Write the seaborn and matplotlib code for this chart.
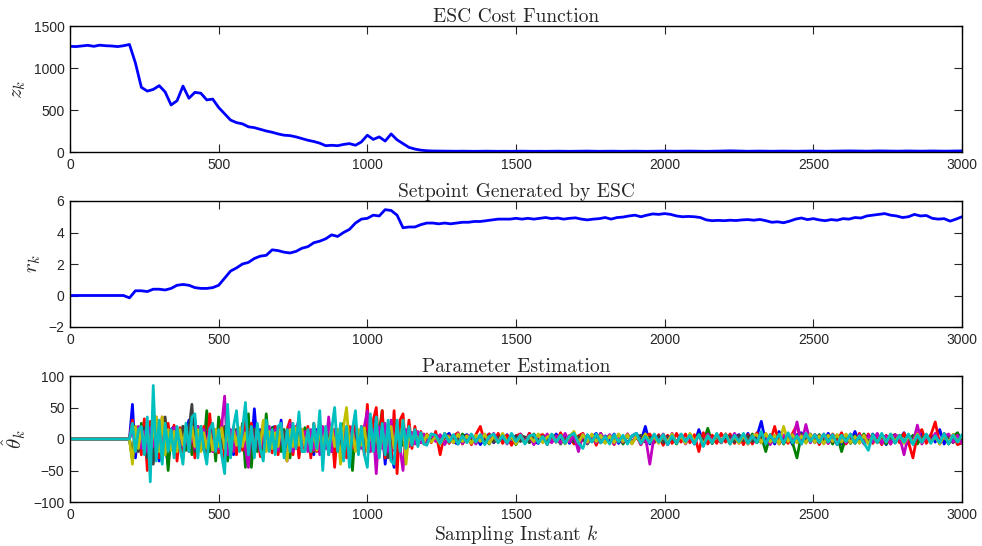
import numpy as np
import pandas as pd
import seaborn as sns
import matplotlib.pyplot as plt

# ESC cost function z_k, sampled every 20 instants from k=0
z_cost = [1258, 1255, 1262, 1270, 1258, 1272, 1265, 1262, 1255, 1265,
          1280, 1060, 770, 725, 745, 790, 715, 560, 610, 785,
          640, 710, 700, 620, 630, 530, 455, 380, 350, 335,
          300, 290, 270, 250, 235, 215, 200, 195, 180, 160,
          140, 125, 105, 75, 80, 75, 90, 100, 80, 120,
          200, 150, 180, 130, 215, 145, 100, 55, 35, 22,
          15, 12, 11, 10, 10, 9, 10, 9, 8, 9,
          10, 9, 8, 9, 8, 9, 10, 9, 8, 9,
          8, 9, 10, 9, 8, 9, 10, 11, 9, 8,
          9, 10, 9, 8, 9, 10, 9, 8, 9, 10,
          11, 10, 9, 10, 11, 10, 9, 8, 9, 10,
          12, 14, 12, 10, 9, 10, 11, 10, 9, 10,
          11, 10, 9, 10, 11, 12, 10, 9, 10, 11,
          12, 13, 12, 11, 10, 12, 13, 12, 11, 10,
          11, 12, 11, 10, 11, 12, 11, 10, 11, 12, 13]

# setpoint r_k, sampled every 20 instants from k=0
r_setpoint = [0, 0, 0, 0, 0, 0, 0, 0, 0, 0,
              -0.15, 0.3, 0.3, 0.25, 0.4, 0.4, 0.35, 0.45, 0.65, 0.7,
              0.65, 0.5, 0.45, 0.45, 0.5, 0.65, 1.1, 1.55, 1.75, 2.0,
              2.1, 2.35, 2.5, 2.55, 2.9, 2.85, 2.75, 2.7, 2.8, 3.0,
              3.1, 3.35, 3.45, 3.6, 3.85, 3.75, 4.0, 4.2, 4.6, 4.85,
              4.9, 5.1, 5.05, 5.45, 5.4, 5.1, 4.3, 4.35, 4.35, 4.5,
              4.6, 4.6, 4.55, 4.6, 4.55, 4.6, 4.65, 4.65, 4.7, 4.7,
              4.75, 4.8, 4.85, 4.85,
              4.85, 4.9, 4.85, 4.9, 4.85, 4.9, 4.95, 4.88, 4.92, 4.85,
              4.9, 4.93, 4.85, 4.8, 4.85, 4.88, 4.95, 4.85, 4.95, 4.98,
              5.05, 5.1, 5.0, 5.1, 5.18, 5.15, 5.2, 5.15, 5.05, 5.0,
              5.02, 5.0, 4.95, 4.8, 4.75, 4.77, 4.75, 4.78, 4.76, 4.8,
              4.82, 4.78, 4.83, 4.75, 4.65, 4.68, 4.62, 4.72, 4.85, 4.92,
              4.82, 4.88, 4.8, 4.75, 4.82, 4.78, 4.88, 4.85, 4.95, 4.92,
              5.05, 5.1, 5.15, 5.2, 5.1, 5.05, 4.95, 5.0, 5.15, 5.05,
              5.08, 4.9, 4.85, 4.88, 4.72, 4.85, 5.0]

# parameter estimates: early part every 10 instants from k=200,
# late part every 15 instants from k=1200 (all zero before k=200)
theta_b_early = [0, 55, -30, 12, -20, 18, -35, 10, 22, -15,
                 -35, 20, -10, -40, 15, 20, -12, 8, -25, 10,
                 30, -8, 30, -20, 12, -18, 10, 20, -15, 8,
                 -12, 15, -20, 20, 12, -25, 10, -15, 18, -10,
                 22, -18, 48, -10, 15, -20, 12, -8, 18, 20,
                 -15, 30, -20, 10, -18, 12, 15, -25, 10, -12,
                 8, -20, -25, 15, -10, 12, -15, 28, -20, 10,
                 -18, 20, -12, 10, 15, -22, 8, -15, 12, -20,
                 18, -15, 25, 30, -20, 15, -40, 10, -20, -45,
                 15, -20, 10, -12, 15, -8, 6, -5, 8, -4]
theta_b_late = [6, -4, 8, -7, 3, 9, -5, -8, 4, 7, -3,
                5, -9, 2, 8, -6, 4, -3, 7, -8, 5, 3,
                -6, 9, -4, -7, 6, 2, -5, 8, -3, 6, -7,
                4, -15, 7, -5, 3, 9, -6, 5, -4, 8, -7,
                3, -6, 5, 9, -4, 20, -8, 6, -3, 5, -9,
                4, -5, 7, -3, 6, -8, 15, -6, 4, -7, 5,
                -4, 8, -6, 3, 7, -5, 9, -7, 4, 28, -6,
                5, -8, 12, -4, 6, -9, 7, 10, -5, 8, -6,
                4, -7, 9, -3, 6, -8, 5, -4, 12, -6, 3,
                -7, 8, -5, 6, -9, 4, 7, -3, 10, -8, 5,
                -6, 9, -4, 7, -5, 15, -8, 6, -3, 9, -5]

theta_g_early = [0, -32, 20, -15, 25, -20, 15, -30, 10, -22,
                 12, -30, 18, -50, 10, -20, 15, -12, 20, -18,
                 15, -25, 10, -18, 20, -12, 45, -20, 18, -35,
                 35, -15, 20, -35, 12, -20, 15, -10, 25, -45,
                 40, -45, 15, -20, 10, -25, 40, -15, 18, -10,
                 12, -20, 15, -10, -30, 20, -15, 10, -12, 18,
                 -15, 10, -20, 12, -18, 15, -10, 20, -12, 15,
                 -20, 12, 25, -15, 18, -50, 20, -22, 15, -12,
                 20, -18, 15, -25, 12, 45, -30, 20, -15, 18,
                 -20, 15, -10, 8, -12, 10, -6, 8, -5, 6]
theta_g_late = [-5, 7, -3, 6, -8, 4, 5, -6, 8, -4, 6,
                -7, 3, 5, -8, 6, -4, 7, -5, 4, -9, 6,
                3, -6, 8, -4, 5, -7, 6, 4, -8, 5, -3,
                7, -5, 6, -8, 4, -3, 9, -6, 5, -4, 7,
                -8, 6, -5, 4, -7, 8, -3, 6, -5, 7, -4,
                5, -8, 6, -4, 7, -5, 8, -6, 17, -7, 4,
                -6, 5, -8, 7, -4, 6, -5, 8, -6, 4, -20,
                7, -5, 6, -8, 4, -6, -30, 8, -5, 6, -4,
                7, -6, 5, -8, 6, -20, 4, -7, 5, -6, 8,
                -5, 7, -4, 6, -8, 5, -6, 4, 7, -5, 6,
                -8, 4, 6, -5, 7, -6, 5, -8, 4, 10, -6]

theta_r_early = [0, 30, -20, 15, -25, 32, -50, 28, -18, 35,
                 -30, 35, -20, 25, -15, 22, -35, 18, -28, 20,
                 -15, 25, -30, 20, -18, 20, -25, 40, -20, 15,
                 -22, 30, -35, 35, -20, 18, -25, 15, -18, 30,
                 -20, 25, -15, 20, -28, 25, -18, 15, -22, 20,
                 -25, 18, -20, 15, 30, -25, 20, -30, 15, -18,
                 20, -30, 25, -20, 25, -15, 18, -25, 20, -45,
                 15, -22, 18, -30, 20, -15, 22, -18, 20, -25,
                 55, -20, 30, 50, -25, 45, -30, 20, -35, 45,
                 -55, 30, 40, -20, 30, -15, 20, -10, 12, -8]
theta_r_late = [8, -6, 12, -25, 9, -7, 5, 10, -8, 6, -9,
                7, 20, -6, 8, -5, 9, -7, 6, -10, 5, 8,
                -6, 9, -8, 5, 7, -9, 6, -5, 10, -7, 6,
                -8, 5, 9, -6, 7, -10, 8, -5, 6, -9, 7,
                -5, 8, -7, 6, -9, 5, 8, -6, 7, -10, 6,
                -7, 9, -5, 8, -6, 7, -20, 10, -8, 6, -7,
                9, -5, 8, -7, 6, -9, 7, -8, 10, -6, 8,
                -5, 20, -8, 6, -7, 9, 22, -6, 8, -5, 7,
                -9, 6, -7, 8, -5, 10, -8, 6, -7, 9, -6,
                8, -7, 5, -9, 6, -8, 7, -6, 9, -5, -30,
                8, 15, -7, 6, 27, -8, 9, -6, 7, -9, -6]

theta_k_early = [0, -30, 15, -20, 10, 18, -30, 12, -40, 15,
                 10, -15, 35, -20, 12, -18, 10, -15, 20, -10,
                 15, 55, -20, 10, -15, 12, -18, 8, 15, -10,
                 10, -12, 8, -15, 12, -10, 15, -8, 10, -12,
                 8, -10, 12, -15, 10, -8, 12, -10, 8, -12,
                 10, -8, 12, -10, 8, -12, 10, -8, 12, -6,
                 8, -10, 12, -8, 10, -12, 8, -10, 12, -8,
                 10, -12, 8, -10, 12, -8, 10, -12, 8, -10,
                 12, -15, 10, -20, 15, -12, 18, -30, 10, -15,
                 12, -10, 8, -6, 8, -5, 6, -4, 5, -4]
theta_k_late = [4, -3, 5, -5, 2, 6, -4, 3, -6, 5, -2,
                -4, 6, -3, 5, -5, 3, 4, -6, 2, 5, -4,
                3, -5, 6, -2, 4, -6, 5, -3, 6, -4, 2,
                -5, 4, -3, 6, -4, 5, -6, 3, 4, -5, 6,
                -3, 5, -4, 2, 6, -5, 3, -4, 5, -6, 4,
                2, -6, 5, -3, 4, -5, 6, -2, 3, -4, 5,
                -6, 3, 4, -5, 6, -3, 5, -4, 2, 6, -5,
                4, -2, 5, -6, 3, 4, -5, 6, -3, 5, -4,
                6, -4, 3, -5, 5, -2, 4, -6, 3, 5, -3,
                -4, 5, -6, 3, 4, -5, 2, 6, -4, 3, -5,
                5, -3, 6, -4, 2, -5, 4, 3, -6, 5, -4]

theta_m_early = [0, 15, -10, 20, -15, 12, -20, 18, -12, 10,
                 -18, 12, -20, 15, -10, 18, -15, 10, -12, 15,
                 -20, 12, -15, 20, -10, 15, -12, 18, -20, 12,
                 -15, 20, 68, -25, 15, -20, 12, -18, 20, -15,
                 -45, 20, -15, 18, -20, 12, -15, 20, -10, 15,
                 -18, 20, -15, -35, 25, -20, 15, 30, -15, 12,
                 -20, 15, -18, 12, -25, 20, -15, 35, -20, 15,
                 -12, 18, -20, 15, -10, 20, -18, 12, -15, 20,
                 45, -20, 15, -55, 20, -15, 25, -20, 30, -18,
                 20, -15, -50, 15, -12, 10, -8, 12, -6, 8]
theta_m_late = [-6, 8, -4, 7, -9, 5, -6, 9, -7, 4, 6,
                -8, 5, 7, -6, 9, -4, 6, -8, 5, -7, 8,
                -5, 6, -9, 7, -4, 8, -6, 5, -7, 9, -5,
                6, -20, 8, -7, 5, -6, 9, -4, 7, -8, 6,
                -5, 8, -7, 6, -9, 5, -40, 7, -6, 8, -5,
                9, -6, 7, -8, 5, -7, 6, -9, 8, -4, 7,
                -6, 8, -5, 9, -7, 6, -8, 5, 7, -6, 8,
                -9, 5, -7, 6, 8, -5, 27, -8, 23, -6, 7,
                -5, 8, -7, 6, -9, 5, -6, 8, -4, 7, -8,
                6, -5, 9, -7, 5, -8, 6, 4, -25, 7, -6,
                22, -8, 5, -6, 9, -7, 4, 8, -5, 6, -7]

theta_y_early = [0, -40, 20, -15, 18, -12, 15, -20, 12, 35,
                 -20, 35, -25, 15, -18, 12, -20, 15, -10, 18,
                 -15, 20, -12, 15, -20, 10, -15, 12, -18, 15,
                 -12, 18, -15, 12, -20, 15, -10, 18, -12, 10,
                 -15, 12, -18, 15, -10, 30, -20, 12, -15, 10,
                 -12, 20, -15, -35, 15, -12, 18, -10, 15, -12,
                 10, -15, 12, -18, 15, -10, 12, -15, 20, -12,
                 15, -40, 20, 50, -15, 12, -20, 15, -10, 18,
                 -20, 15, -12, 20, -25, 15, -18, 12, 20, -15,
                 18, -12, 30, -40, 10, -8, 12, -6, 8, -5]
theta_y_late = [7, -5, 4, -8, 6, 3, -6, 8, -4, 5, -7,
                6, -4, 8, -7, 5, -6, 9, -5, 4, -8, 6,
                -7, 5, -4, 8, -6, 3, 7, -5, 6, -8, 4,
                12, -6, 7, -5, 8, -4, 6, -7, 5, -6, 8,
                -4, 7, -8, 5, -6, 8, -5, 4, -7, 6, -5,
                8, -6, 5, -7, 9, -4, 6, -8, 5, -6, 7,
                -5, 8, -6, 4, -7, 6, -8, 5, 7, -6, 9,
                -5, 6, -8, 20, -4, 7, -6, 5, -7, 8, -6,
                5, -8, 6, -4, 7, -5, 8, -6, 4, -7, 6,
                -8, 5, -6, 7, -5, 8, -4, 6, -7, 5, -6,
                8, -5, 7, -6, 4, -8, 6, -5, 7, -4, 5]

theta_c_early = [0, 25, -20, 15, 20, -25, 35, -68, 85, -35,
                 30, -40, 25, -20, 15, -30, 20, -15, -40, 25,
                 -20, 35, 40, -30, 20, -15, -40, 15, 25, -20,
                 15, -25, -55, 55, -30, 20, 45, -20, 15, 58,
                 -25, 20, -30, 25, -15, -35, 30, -20, 15, -25,
                 20, 25, -30, 15, -20, 25, -15, 43, -20, -20,
                 15, -20, 25, -15, 45, -50, 20, -25, 15, 50,
                 -20, 25, -35, 20, -45, 15, 45, -25, 20, -25,
                 -45, 40, -20, 35, -30, 25, -25, 30, -35, -40,
                 30, -20, 30, -15, 20, -10, 15, -12, 10, -8]
theta_c_late = [-10, 8, 6, -7, 9, -5, 7, -8, 5, -6, 8,
                -5, 7, -9, 4, 8, -6, 5, -7, 9, -4, 6,
                -8, 5, 7, -6, 4, -9, 8, -5, 6, -7, 5,
                9, -6, -15, 7, -5, 8, -6, 4, -8, 7, -5,
                6, -8, 5, 9, -7, 4, -6, 8, -5, 7, -9,
                5, -7, 8, -4, 6, -8, 7, -12, 5, -6, 9,
                -5, 7, -8, 6, -4, 9, -7, 5, -6, 12, -8,
                6, -5, 8, -7, 10, -6, 5, -8, 9, -4, 7,
                -6, 8, -5, 7, -9, 6, -4, 8, -7, 5, -6,
                -18, 7, -6, 9, -5, 8, -7, 6, -5, 8, -9,
                6, -5, 8, -7, 5, -6, 9, -8, 6, -5, 7]

theta_names = ['b', 'g', 'r', 'k', 'm', 'y', 'c']
theta_early = [theta_b_early, theta_g_early, theta_r_early, theta_k_early,
               theta_m_early, theta_y_early, theta_c_early]
theta_late = [theta_b_late, theta_g_late, theta_r_late, theta_k_late,
              theta_m_late, theta_y_late, theta_c_late]

# matlab-ish colours, cyan drawn last
theta_palette = {'b': '#0000FF', 'g': '#008000', 'r': '#FF0000', 'k': '#404040',
                 'm': '#BF00BF', 'y': '#BFBF00', 'c': '#00BFBF'}

# build data frames ########################################
df_z = pd.DataFrame({'k': np.arange(len(z_cost)) * 20, 'z': z_cost})
df_r = pd.DataFrame({'k': np.arange(len(r_setpoint)) * 20, 'r': r_setpoint})

rows = []
for name, early, late in zip(theta_names, theta_early, theta_late):
    k_vals = np.concatenate([[0], 200 + 10 * np.arange(len(early)), 1200 + 15 * np.arange(len(late))])
    v_vals = np.concatenate([[0], early, late])
    rows.append(pd.DataFrame({'k': k_vals, 'theta': v_vals, 'param': name}))
df_theta = pd.concat(rows, ignore_index=True)

# figure ###################################################
sns.set_style('ticks')
plt.rcParams['font.family'] = ['Liberation Sans', 'DejaVu Sans']
plt.rcParams['mathtext.fontset'] = 'cm'
plt.rcParams['axes.linewidth'] = 1.0

fig = plt.figure(figsize=(9.82, 5.46), dpi=100)
left, width, height = 70 / 982, 892 / 982, 126 / 546
bottoms = [1 - 152 / 546, 1 - 327 / 546, 1 - 502 / 546]
axes = [fig.add_axes([left, b, width, height]) for b in bottoms]

title_font = dict(family='cmr10', size=14)

sns.lineplot(data=df_z, x='k', y='z', color='#0000FF', linewidth=2.0, ax=axes[0])
axes[0].set_ylim(0, 1500)
axes[0].set_yticks([0, 500, 1000, 1500])
axes[0].set_ylabel('$z_k$', fontsize=15)
axes[0].set_title('ESC Cost Function', fontdict=title_font, pad=3)

sns.lineplot(data=df_r, x='k', y='r', color='#0000FF', linewidth=2.0, ax=axes[1])
axes[1].set_ylim(-2, 6)
axes[1].set_yticks([-2, 0, 2, 4, 6])
axes[1].set_ylabel('$r_k$', fontsize=15)
axes[1].set_title('Setpoint Generated by ESC', fontdict=title_font, pad=3)

sns.lineplot(data=df_theta, x='k', y='theta', hue='param', hue_order=theta_names,
             palette=theta_palette, estimator=None, sort=False, linewidth=2.0,
             legend=False, ax=axes[2])
axes[2].set_ylim(-100, 100)
axes[2].set_yticks([-100, -50, 0, 50, 100])
axes[2].set_ylabel(r'$\hat{\theta}_k$', fontsize=15)
axes[2].set_title('Parameter Estimation', fontdict=title_font, pad=3)

for ax in axes:
    ax.set_xlim(0, 3000)
    ax.set_xticks([0, 500, 1000, 1500, 2000, 2500, 3000])
    ax.tick_params(direction='in', top=True, right=True, length=5.5, width=0.8,
                   labelsize=10, pad=4)
    ax.set_xlabel('')
    for s in ax.spines.values():
        s.set_visible(True)
        s.set_color('black')

axes[2].set_xlabel('Sampling Instant $k$', fontdict=dict(family='cmr10', size=14), labelpad=1)

plt.savefig('out.png', dpi=100)
